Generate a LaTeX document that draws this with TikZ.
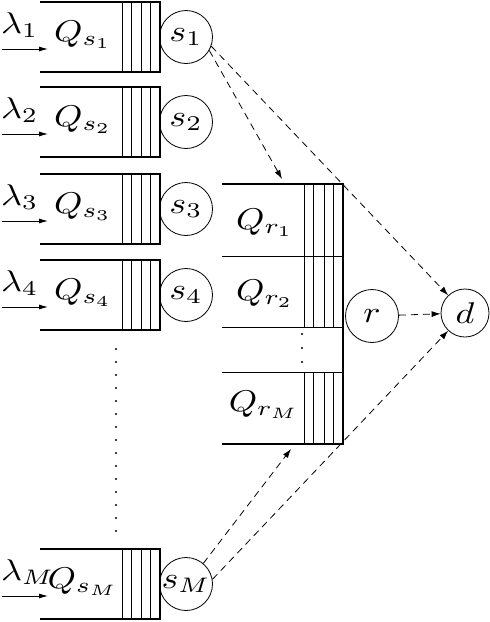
\documentclass[tikz,border=0pt]{standalone}
\usepackage{graphicx}
\usetikzlibrary{arrows.meta,positioning}
\newcommand{\qtxt}[1]{\scalebox{3.6}[3.0]{$#1$}}
\tikzset{
 q edge/.style={line width=2.4pt},
 q slot/.style={line width=.8pt},
 q server/.style={circle,draw,line width=.8pt,minimum size=53pt,inner sep=0pt},
 q label/.style={inner sep=0pt},
 q flow/.style={line width=.8pt,dash pattern=on 7pt off 5pt,
                -{Latex[length=9pt,width=6pt]}},
 q arrival/.style={line width=.8pt,-{Latex[length=9pt,width=5pt]}}
}
\begin{document}
\begin{tikzpicture}[x=1pt,y=-1pt]
 \useasboundingbox (0,0) rectangle (490,622);
 % source queues
 \foreach \i/\y/\t in {1/2/1,2/87/2,3/174/3,4/260/4,5/549/M}{
   \draw[q edge] (40,\y)--(160,\y)--(160,\y+70)--(40,\y+70);
   \foreach \x in {122,131,141,150}{\draw[q slot] (\x,\y)--(\x,\y+70);}
   \node[q server] (s\i) at (186,\y+35) {\qtxt{s_{\t}}};
   \node[q label,anchor=base] (Qs\i) at (83,\y+39) {\qtxt{Q_{s_{\t}}}};
   \coordinate (in\i) at (2,\y+47);
   \coordinate (at\i) at (48,\y+47);
   \draw[q arrival] (in\i)--(at\i);
   \node[q label,anchor=base west] (lam\i) at (1,\y+31) {\qtxt{\lambda_{\t}}};
 }
 % dots between the source queues
 \foreach \k in {0,...,14}{
   \fill (116,349+13*\k) circle (1.2pt);
 }
 % relay queue
 \draw[q edge] (222,184)--(343,184)--(343,444)--(222,444);
 \foreach \h in {256,327,372}{\draw[q slot] (222,\h)--(343,\h);}
 \foreach \x in {304,313,324,333}{
   \draw[q slot] (\x,184)--(\x,327);
   \draw[q slot] (\x,372)--(\x,444);
 }
 \foreach \k in {0,1,2}{\fill (302,334+14*\k) circle (1.2pt);}
 \node[q label,anchor=base] (Qr1) at (265,229) {\qtxt{Q_{r_1}}};
 \node[q label,anchor=base] (Qr2) at (265,300) {\qtxt{Q_{r_2}}};
 \node[q label,anchor=base] (QrM) at (264,411) {\qtxt{Q_{r_M}}};
 \coordinate (rtop) at (282,179);
 \coordinate (rbot) at (291,449);
 % relay and destination
 \node[q server] (r) at (372,316) {\qtxt{r}};
 \node[q server,minimum size=48pt] (d) at (465,313) {\qtxt{d}};
 \draw[q flow] (s1.-30)--(rtop);
 \draw[q flow] (s1.-20)--(d);
 \draw[q flow] (s5.50)--(rbot);
 \draw[q flow] (s5.10)--(d);
 \draw[q flow] (r)--(d);
\end{tikzpicture}
\end{document}
